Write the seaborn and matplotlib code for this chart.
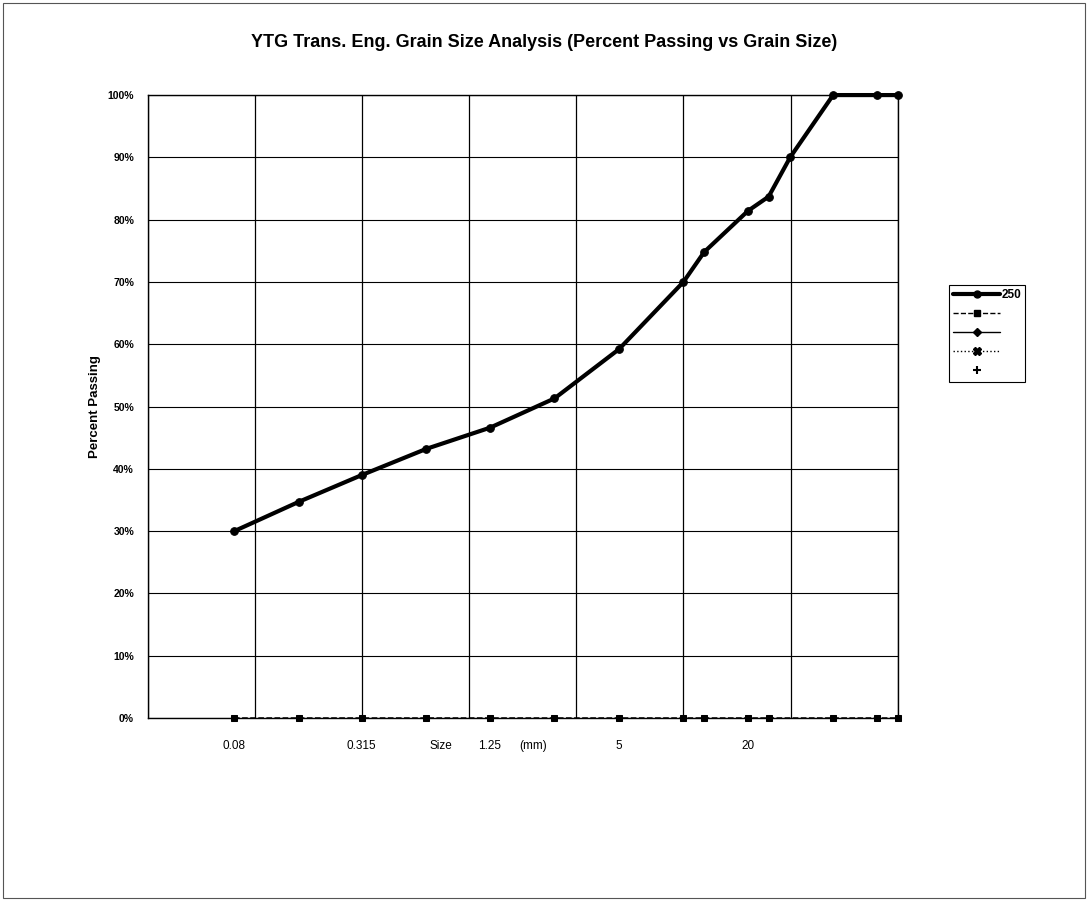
import numpy as np
import pandas as pd
import matplotlib
matplotlib.use("Agg")
import matplotlib.pyplot as plt
from matplotlib.lines import Line2D
from matplotlib.patches import Rectangle
from matplotlib.ticker import FixedLocator, NullFormatter, PercentFormatter
import seaborn as sns

# sieve sizes (mm) and percent passing for sample 250
sizes = [0.08, 0.16, 0.315, 0.63, 1.25, 2.5, 5, 10, 12.5, 20, 25, 31.5, 50, 80, 100]
passing = [30.0, 34.7, 39.0, 43.2, 46.6, 51.3, 59.2, 70.0, 74.8, 81.4, 83.7, 90.0, 100.0, 100.0, 100.0]

# second (empty) series sitting on 0%
zero_sizes = [0.08, 0.16, 0.315, 0.63, 1.25, 2.5, 5, 10, 12.5, 20, 25, 50, 80, 100]
zero_vals = [0] * len(zero_sizes)

# x labels (incl. the "Size ... (mm)" words around 1.25)
label_pos = [0.08, 0.315, 0.74, 1.25, 1.98, 5, 20]
label_text = ["0.08", "0.315", "Size", "1.25", "(mm)", "5", "20"]

df = pd.DataFrame({"size": sizes, "passing": passing})
df0 = pd.DataFrame({"size": zero_sizes, "passing": zero_vals})

sns.set_style("white")
plt.rcParams["font.family"] = ["Liberation Sans", "DejaVu Sans"]
plt.rcParams["text.color"] = "black"
plt.rcParams["axes.labelcolor"] = "black"
plt.rcParams["xtick.color"] = "black"
plt.rcParams["ytick.color"] = "black"

fig = plt.figure(figsize=(10.88, 9.02), dpi=100)
ax = fig.add_axes([0.136, 0.204, 0.689, 0.6906])

ax.set_xscale("log")
ax.set_xlim(10 ** -1.5, 100)
ax.set_ylim(0, 100)

# grid: vertical lines every half decade, horizontal every 10%
ax.xaxis.set_minor_locator(FixedLocator([10 ** (-1.5 + 0.5 * k) for k in range(8)]))
ax.xaxis.set_minor_formatter(NullFormatter())
ax.xaxis.set_major_locator(FixedLocator(label_pos))
ax.set_xticklabels(label_text, fontsize=8.5)
ax.tick_params(axis="x", which="both", length=0, pad=16)
ax.grid(True, axis="x", which="minor", color="black", lw=0.9)
ax.grid(False, axis="x", which="major")

ax.set_yticks(np.arange(0, 101, 10))
ax.yaxis.set_major_formatter(PercentFormatter(decimals=0))
ax.tick_params(axis="y", length=4, width=0.8, color="black", direction="out", pad=6, labelsize=7.5)
for t in ax.get_yticklabels():
    t.set_fontweight("bold")
ax.grid(True, axis="y", color="black", lw=0.8)
ax.set_axisbelow(True)

for s in ax.spines.values():
    s.set_color("black")
    s.set_linewidth(1.0)

sns.lineplot(data=df0, x="size", y="passing", ax=ax, color="black", lw=1.1,
             linestyle="--", marker="s", markersize=5, markeredgecolor="black",
             clip_on=False, zorder=4)
sns.lineplot(data=df, x="size", y="passing", ax=ax, color="black", lw=3,
             marker="o", markersize=5.5, markeredgecolor="black",
             clip_on=False, zorder=5)

ax.set_xlabel("")
ax.set_ylabel("Percent Passing", fontsize=9.5, fontweight="bold", labelpad=5)

fig.text(0.5, 0.953, "YTG Trans. Eng. Grain Size Analysis (Percent Passing vs Grain Size)",
         ha="center", va="center", fontsize=13, fontweight="bold")

handles = [
    Line2D([], [], color="black", lw=3, marker="o", markersize=5),
    Line2D([], [], color="black", lw=1, linestyle="--", marker="s", markersize=5),
    Line2D([], [], color="black", lw=1, marker="D", markersize=4),
    Line2D([], [], color="black", lw=1, linestyle=":", marker="X", markersize=6),
    Line2D([], [], color="black", lw=0, marker="+", markersize=6, markeredgewidth=1.5),
]
leg = fig.legend(handles, ["250", "", "", "", ""], loc="upper left",
                 bbox_to_anchor=(943 / 1088, 1 - 279 / 902), fontsize=8.5,
                 numpoints=1, handlelength=4.0, handletextpad=0.1,
                 borderpad=0.35, labelspacing=0.6, fancybox=False,
                 edgecolor="black", framealpha=1)
for t in leg.get_texts():
    t.set_fontweight("bold")
leg.get_frame().set_linewidth(0.8)

# outer chart border
fig.patches.append(Rectangle((0.003, 0.004), 0.994, 0.993, transform=fig.transFigure,
                             fill=False, edgecolor="#555555", lw=0.8))

fig.savefig("out.png", dpi=100)
